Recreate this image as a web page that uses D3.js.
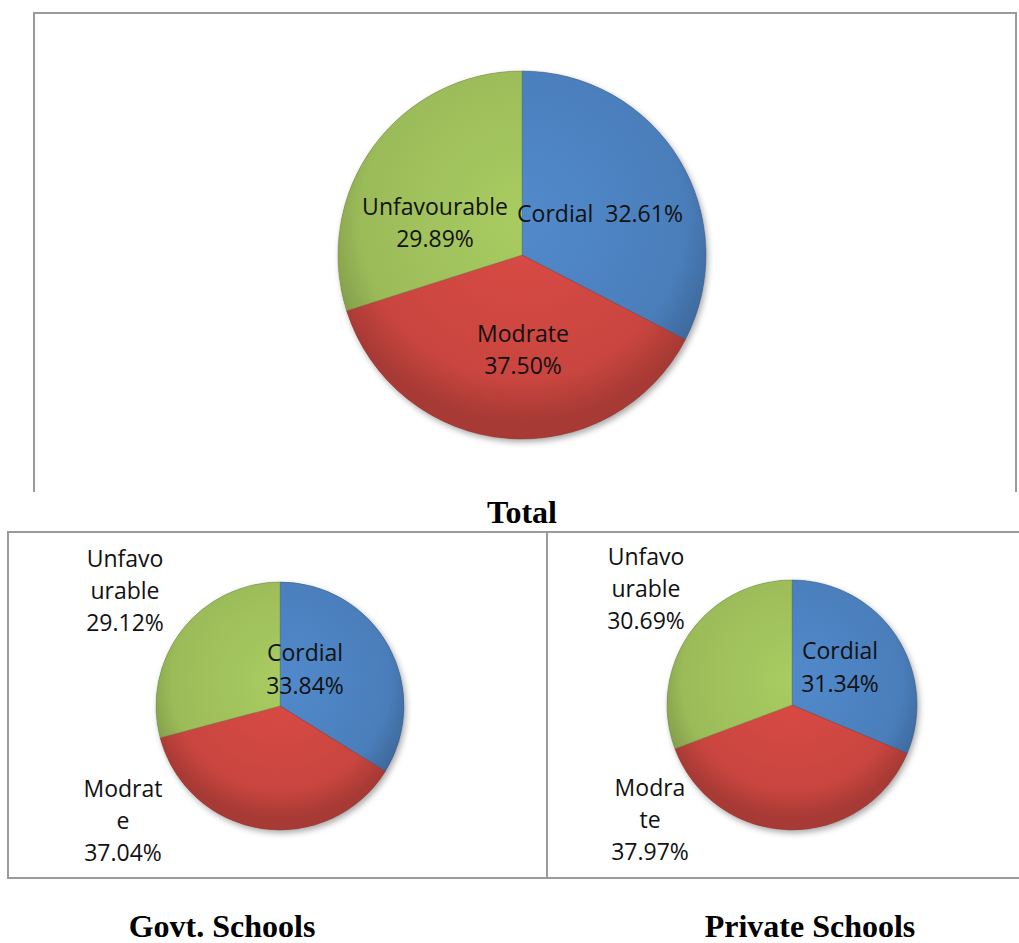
<!DOCTYPE html>
<html><head><meta charset="utf-8">
<script src="https://cdn.jsdelivr.net/npm/d3@7"></script>
<style>body{margin:0;background:#fff}svg{display:block}text{white-space:pre}</style>
</head><body>
<svg id="c" width="1019" height="943"></svg>
<script>
const categories = ["Cordial", "Modrate", "Unfavourable"];
const totalValues = [32.61, 37.50, 29.89];
const govtValues = [33.84, 37.04, 29.12];
const privateValues = [31.34, 37.97, 30.69];
const chartTitles = ["Total", "Govt. Schools", "Private Schools"];
const colors = ["#4a7ebb", "#c9453f", "#9bbb59"];

const svg = d3.select("#c");
const defs = svg.append("defs");
const f = defs.append("filter").attr("id","sh").attr("x","-20%").attr("y","-20%").attr("width","140%").attr("height","140%");
f.append("feDropShadow").attr("dx",2).attr("dy",3).attr("stdDeviation",3).attr("flood-color","#000").attr("flood-opacity",0.35);

// frames
const frame = svg.append("g").attr("fill","none").attr("stroke","#9a9a9a").attr("stroke-width",2);
frame.append("path").attr("d","M34,492V13H1016V492");
frame.append("rect").attr("x",8).attr("y",532).attr("width",539).attr("height",346);
frame.append("path").attr("d","M547,532H1019M547,878H1019");

const fontFam = "'Open Sans', Lato, sans-serif";

function drawPie(values, cx, cy, r, labels) {
  const pie = d3.pie().sort(null).value(d=>d)(values);
  const arc = d3.arc().innerRadius(0).outerRadius(r);
  const g = svg.append("g").attr("transform",`translate(${cx},${cy})`);
  g.append("circle").attr("r",r).attr("fill","#888").attr("filter","url(#sh)");
  pie.forEach((d,i)=>{
    const grad = defs.append("radialGradient").attr("id",`gp${cx}_${i}`).attr("gradientUnits","userSpaceOnUse")
      .attr("cx",0).attr("cy",-r*0.2).attr("r",r*1.1);
    const base = d3.color(colors[i]);
    grad.append("stop").attr("offset","0%").attr("stop-color", base.brighter(0.25));
    grad.append("stop").attr("offset","80%").attr("stop-color", base);
    grad.append("stop").attr("offset","100%").attr("stop-color", base.darker(0.5));
    g.append("path").attr("d",arc(d)).attr("fill",`url(#gp${cx}_${i})`)
      .attr("stroke", base.darker(0.8)).attr("stroke-width",0.8).attr("stroke-opacity",0.6);
  });
  labels.forEach((lab,i)=>{
    const t = g.append("text").attr("font-family",fontFam).attr("font-size",23).attr("fill","#111")
      .attr("text-anchor","middle");
    lab.lines.forEach((ln,j)=>{
      t.append("tspan").attr("x",lab.dx).attr("y",lab.dy + j*lab.lh).text(ln);
    });
  });
}

const pct = v => v.toFixed(2) + "%";

drawPie(totalValues, 522, 255, 184, [
  {lines:[categories[0]+"  "+pct(totalValues[0])], dx:78, dy:-33, lh:32},
  {lines:[categories[1], pct(totalValues[1])], dx:1, dy:87, lh:32},
  {lines:[categories[2], pct(totalValues[2])], dx:-87, dy:-40, lh:32}
]);
drawPie(govtValues, 280, 706, 124, [
  {lines:[categories[0], pct(govtValues[0])], dx:25, dy:-45, lh:33},
  {lines:["Modrat","e", pct(govtValues[1])], dx:-157, dy:91, lh:32},
  {lines:["Unfavo","urable", pct(govtValues[2])], dx:-155, dy:-139, lh:32}
]);
drawPie(privateValues, 792, 705, 125, [
  {lines:[categories[0], pct(privateValues[0])], dx:48, dy:-46, lh:33},
  {lines:["Modra","te", pct(privateValues[1])], dx:-142, dy:91, lh:32},
  {lines:["Unfavo","urable", pct(privateValues[2])], dx:-146, dy:-140, lh:32}
]);

const tf = "'Liberation Serif', 'Times New Roman', serif";
[[chartTitles[0],522,523],[chartTitles[1],222,937],[chartTitles[2],810,937]].forEach(([t,x,y])=>{
  svg.append("text").attr("x",x).attr("y",y).attr("text-anchor","middle").attr("font-family",tf)
    .attr("font-weight","bold").attr("font-size",32).attr("fill","#000").text(t);
});
</script>
</body></html>
